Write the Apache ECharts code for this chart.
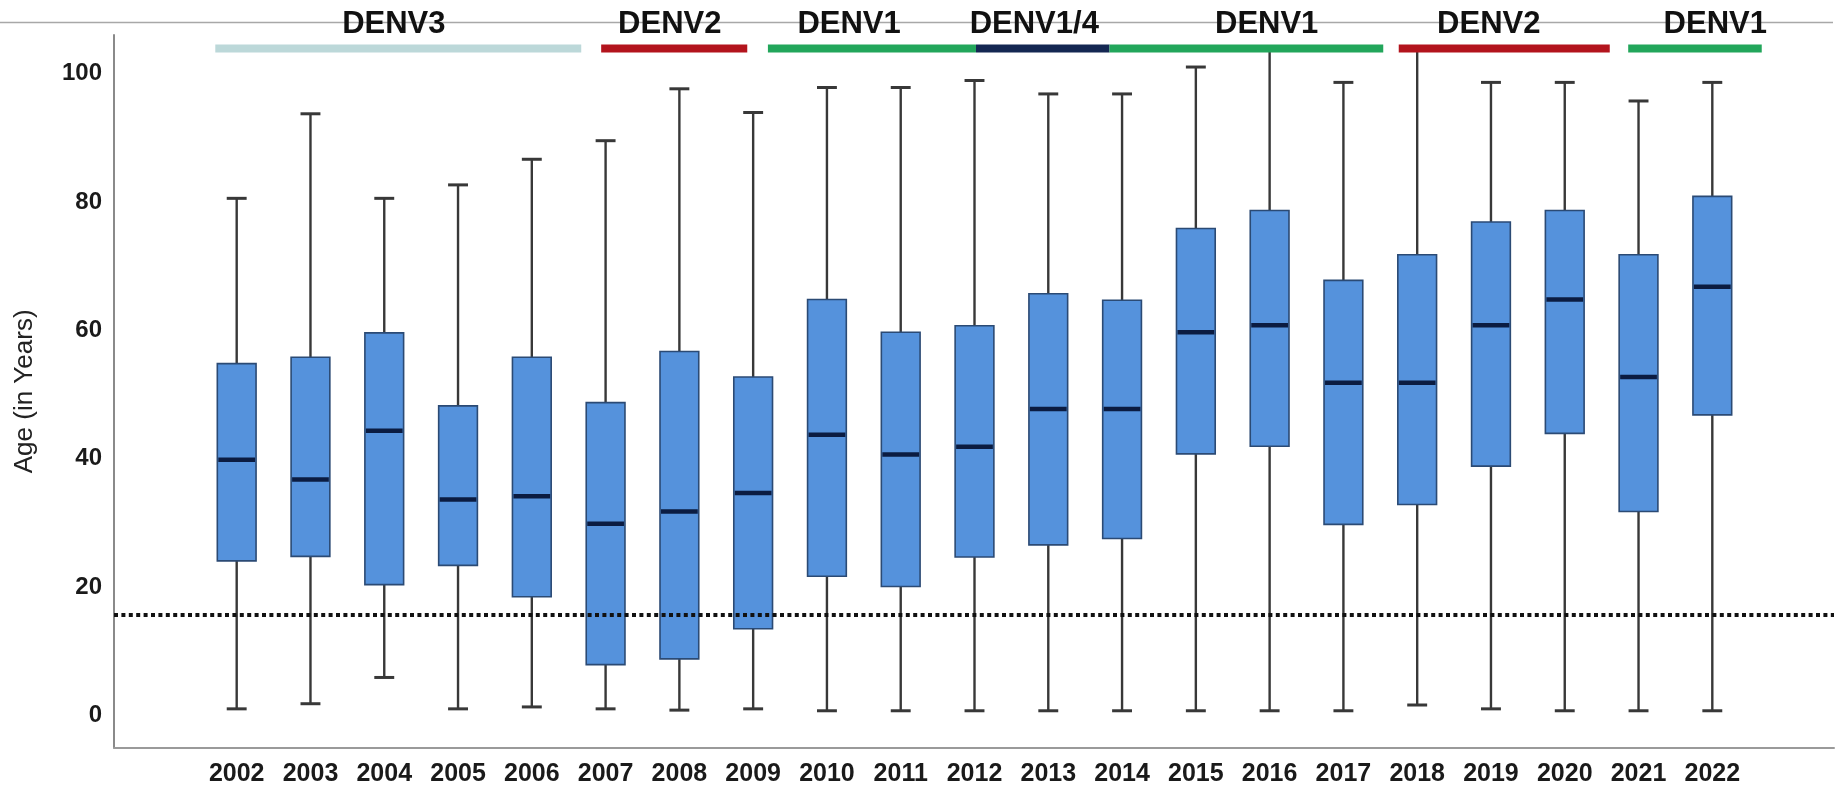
<!DOCTYPE html>
<html>
<head>
<meta charset="utf-8">
<script src="https://cdn.jsdelivr.net/npm/echarts@6/dist/echarts.min.js"></script>
<style>
  html, body { margin: 0; padding: 0; background: #ffffff; }
  #chart { width: 1843px; height: 787px; }
</style>
</head>
<body>
<div id="chart"></div>
<script>
// Age distribution of dengue cases per year
const years = ['2002','2003','2004','2005','2006','2007','2008','2009','2010','2011','2012',
               '2013','2014','2015','2016','2017','2018','2019','2020','2021','2022'];
const ageMin    = [0.8, 1.6, 5.7, 0.8, 1.1, 0.8, 0.6, 0.8, 0.5, 0.5, 0.5, 0.5, 0.5, 0.5, 0.5, 0.5, 1.4, 0.8, 0.5, 0.5, 0.5];
const ageQ1     = [23.9, 24.6, 20.2, 23.2, 18.3, 7.7, 8.6, 13.3, 21.5, 19.9, 24.5, 26.4, 27.4, 40.6, 41.8, 29.6, 32.7, 38.7, 43.8, 31.6, 46.7];
const ageMedian = [39.7, 36.6, 44.2, 33.5, 34.0, 29.7, 31.6, 34.5, 43.6, 40.5, 41.7, 47.6, 47.6, 59.6, 60.7, 51.7, 51.7, 60.7, 64.7, 52.6, 66.7];
const ageQ3     = [54.7, 55.7, 59.5, 48.1, 55.7, 48.6, 56.6, 52.6, 64.7, 59.6, 60.6, 65.6, 64.6, 75.8, 78.6, 67.7, 71.7, 76.8, 78.6, 71.7, 80.8];
const ageMax    = [80.5, 93.7, 80.5, 82.6, 86.6, 89.5, 97.6, 93.9, 97.8, 97.8, 98.9, 96.8, 96.8, 101.0, 104.0, 98.6, 104.0, 98.6, 98.6, 95.7, 98.6];

// Reference age drawn as a dotted line
const referenceAge = 15.65;

// Y axis tick labels
const yTicks = [0, 20, 40, 60, 80, 100];

// Dominant serotype periods (in fractional years) and label centres
const serotypeName  = ['DENV3', 'DENV2', 'DENV1', 'DENV1/4', 'DENV1', 'DENV2', 'DENV1'];
const serotypeStart = [2001.71, 2006.94, 2009.20, 2012.02, 2013.83, 2017.75, 2020.86];
const serotypeEnd   = [2006.67, 2008.92, 2012.02, 2013.83, 2017.54, 2020.61, 2022.67];
const serotypeLabelAt = [2004.13, 2007.87, 2010.30, 2012.81, 2015.96, 2018.97, 2022.04];

const serotypeColor = {
  'DENV3': '#bcd8d9',
  'DENV2': '#b3141d',
  'DENV1': '#22a65b',
  'DENV1/4': '#142752'
};

const FONT = '"Liberation Sans", Arial, sans-serif';
const Y_MIN = -5, Y_MAX = 106;
const BAR_LEVEL = 103.9;    // serotype bar height on the age scale
const LABEL_LEVEL = 107.6;  // serotype label height on the age scale
const firstYear = Number(years[0]);

const boxData = years.map((y, i) => [i, ageMin[i], ageQ1[i], ageMedian[i], ageQ3[i], ageMax[i]]);

function renderBox(params, api) {
  const i = api.value(0);
  const x = api.coord([i, 0])[0];
  const band = api.size([1, 0])[0];
  const boxW = band * 0.525;
  const capW = band * 0.27;
  const yMin = api.coord([i, api.value(1)])[1];
  const yQ1  = api.coord([i, api.value(2)])[1];
  const yMed = api.coord([i, api.value(3)])[1];
  const yQ3  = api.coord([i, api.value(4)])[1];
  const yMax = api.coord([i, api.value(5)])[1];
  const whisker = { stroke: '#383838', lineWidth: 2.4 };
  const cap = { stroke: '#383838', lineWidth: 3 };
  return {
    type: 'group',
    children: [
      { type: 'line', shape: { x1: x, y1: yQ1, x2: x, y2: yMin }, style: whisker },
      { type: 'line', shape: { x1: x, y1: yQ3, x2: x, y2: yMax }, style: whisker },
      { type: 'line', shape: { x1: x - capW / 2, y1: yMin, x2: x + capW / 2, y2: yMin }, style: cap },
      { type: 'line', shape: { x1: x - capW / 2, y1: yMax, x2: x + capW / 2, y2: yMax }, style: cap },
      { type: 'rect', shape: { x: x - boxW / 2, y: yQ3, width: boxW, height: yQ1 - yQ3 },
        style: { fill: '#5592dc', stroke: '#2b4a74', lineWidth: 1.6 } },
      { type: 'line', shape: { x1: x - boxW / 2 + 1, y1: yMed, x2: x + boxW / 2 - 1, y2: yMed },
        style: { stroke: '#0b1c42', lineWidth: 4.5 } }
    ]
  };
}

// Pixel x for a fractional year, interpolated along the category axis
function yearToX(api, year, yVal) {
  const p0 = api.coord([0, yVal])[0];
  const p1 = api.coord([1, yVal])[0];
  return p0 + (year - firstYear) * (p1 - p0);
}

function renderSerotypeBar(params, api) {
  const k = params.dataIndex;
  const y = api.coord([0, BAR_LEVEL])[1];
  const x1 = yearToX(api, serotypeStart[k], BAR_LEVEL);
  const x2 = yearToX(api, serotypeEnd[k], BAR_LEVEL);
  return {
    type: 'rect',
    shape: { x: x1, y: y - 4, width: x2 - x1, height: 8 },
    style: { fill: serotypeColor[serotypeName[k]] }
  };
}

function renderSerotypeLabel(params, api) {
  const k = params.dataIndex;
  const y = api.coord([0, LABEL_LEVEL])[1];
  const x = yearToX(api, serotypeLabelAt[k], LABEL_LEVEL);
  return {
    type: 'text',
    x: x, y: y,
    style: {
      text: serotypeName[k],
      fill: '#111111',
      font: 'bold 31px ' + FONT,
      align: 'center',
      verticalAlign: 'middle'
    }
  };
}

const chart = echarts.init(document.getElementById('chart'), null, { renderer: 'canvas' });

chart.setOption({
  animation: false,
  backgroundColor: '#ffffff',
  graphic: [{
    type: 'line',
    z: 0,
    shape: { x1: 0, y1: 22.5, x2: 1833, y2: 22.5 },
    style: { stroke: '#a8a8a8', lineWidth: 1.5 }
  }],
  grid: [
    { left: 114, right: 9, top: 35, bottom: 39.3, containLabel: false },
    { left: 199.8, width: 1549.4, top: 35, bottom: 39.3, containLabel: false }
  ],
  xAxis: [
    {
      gridIndex: 0, type: 'value', min: 0, max: 1,
      axisLine: { show: true, onZero: false, lineStyle: { color: '#9a9a9a', width: 2 } },
      axisTick: { show: false }, axisLabel: { show: false }, splitLine: { show: false }
    },
    {
      gridIndex: 1, type: 'category', data: years, boundaryGap: true,
      axisLine: { show: false }, axisTick: { show: false }, splitLine: { show: false },
      axisLabel: {
        show: true, interval: 0, margin: 16,
        color: '#1a1a1a', fontFamily: FONT, fontSize: 25, fontWeight: 'bold'
      }
    }
  ],
  yAxis: [
    {
      gridIndex: 0, type: 'value', min: Y_MIN, max: Y_MAX,
      name: 'Age (in Years)', nameLocation: 'middle', nameGap: 76, nameRotate: 90,
      nameTextStyle: { color: '#222222', fontFamily: FONT, fontSize: 26 },
      axisLine: { show: true, lineStyle: { color: '#8a8a8a', width: 2 } },
      axisTick: { show: false },
      splitLine: { show: false },
      axisLabel: {
        customValues: yTicks, margin: 12,
        color: '#1a1a1a', fontFamily: FONT, fontSize: 24, fontWeight: 'bold'
      }
    },
    {
      gridIndex: 1, type: 'value', min: Y_MIN, max: Y_MAX, show: false,
      axisLine: { show: false }, axisTick: { show: false }, axisLabel: { show: false }, splitLine: { show: false }
    }
  ],
  series: [
    {
      name: 'Age', type: 'custom', xAxisIndex: 1, yAxisIndex: 1,
      renderItem: renderBox, encode: { x: 0, y: [1, 2, 3, 4, 5] },
      data: boxData, z: 2, clip: false
    },
    {
      name: 'Reference age', type: 'line', xAxisIndex: 0, yAxisIndex: 0,
      data: [[0, referenceAge], [1, referenceAge]],
      showSymbol: false, symbol: 'none', silent: true, z: 5,
      lineStyle: { color: '#111111', width: 4, type: [4, 3.4] }
    },
    {
      name: 'Serotype period', type: 'custom', xAxisIndex: 1, yAxisIndex: 1,
      renderItem: renderSerotypeBar, encode: { x: 0, y: 1 },
      data: serotypeName.map(() => [0, BAR_LEVEL]), z: 6, clip: false, silent: true
    },
    {
      name: 'Serotype', type: 'custom', xAxisIndex: 1, yAxisIndex: 1,
      renderItem: renderSerotypeLabel, encode: { x: 0, y: 1 },
      data: serotypeName.map(() => [0, LABEL_LEVEL]), z: 7, clip: false, silent: true
    }
  ]
});
</script>
</body>
</html>
